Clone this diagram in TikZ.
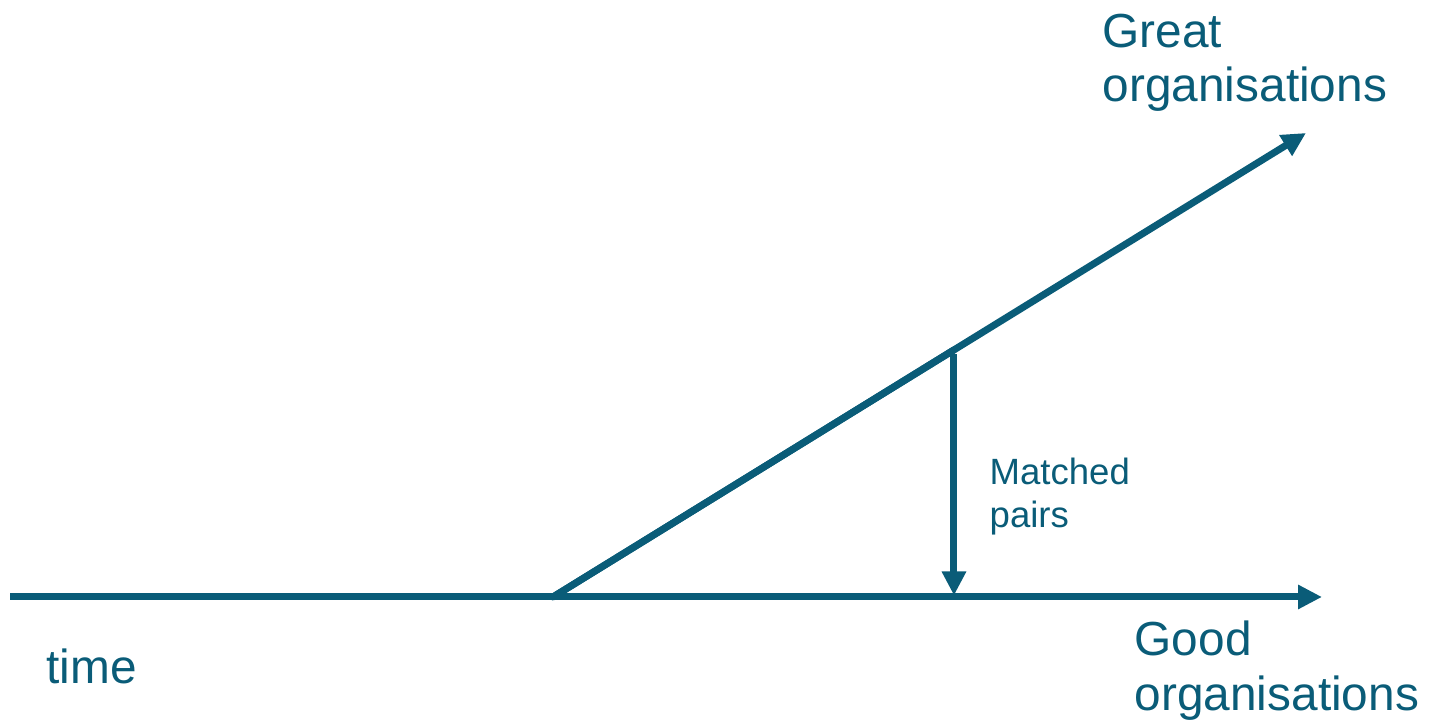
\documentclass[tikz,border=0pt]{standalone}
\definecolor{OrgTeal}{RGB}{10,92,120}
\usepackage{fontspec}
\setmainfont{Liberation Sans}
\usepackage{tikz}
\usetikzlibrary{arrows.meta, calc}

\begin{document}
\begin{tikzpicture}[
	trend/.style={OrgTeal, line width=0.07cm, -{Triangle[length=0.24cm,width=0.23cm]}},
	biglabel/.style={text=OrgTeal, inner sep=0pt, align=left,
		font=\fontsize{13.6pt}{15.6pt}\selectfont},
	smalllabel/.style={text=OrgTeal, inner sep=0pt, align=left,
		font=\fontsize{10.4pt}{12.3pt}\selectfont}]
\useasboundingbox (0,0) rectangle (14.29,7.2);
% time axis and the two paths
\coordinate (start) at (0.10,1.23);
\coordinate (fork) at (5.53,1.23);
\coordinate (goodend) at (13.22,1.23);
\coordinate (greatend) at (13.06,5.87);
\coordinate (pairtop) at ($(fork)!0.5325!(greatend)$);
\coordinate (pairbot) at (pairtop |- fork);
\draw[trend] (start) -- (goodend);
\draw[OrgTeal, line width=0.07cm, line cap=round] (fork) -- (pairtop);
\draw[trend] (fork) -- (greatend);
\draw[trend, shorten >=-0.02cm] ($(pairtop)+(0,-0.04)$) -- ($(pairbot)+(0,0.035)$);
% labels
\node[biglabel, anchor=north west] (great) at (11.02,7.07) {Great\\organisations};
\node[biglabel, anchor=north west] (good) at (11.34,1.00) {Good\\organisations};
\node[biglabel, anchor=base west] (time) at (0.46,0.36) {time};
\node[smalllabel, anchor=north west] (pairs) at (9.89,2.63) {Matched\\pairs};
\end{tikzpicture}
\end{document}
